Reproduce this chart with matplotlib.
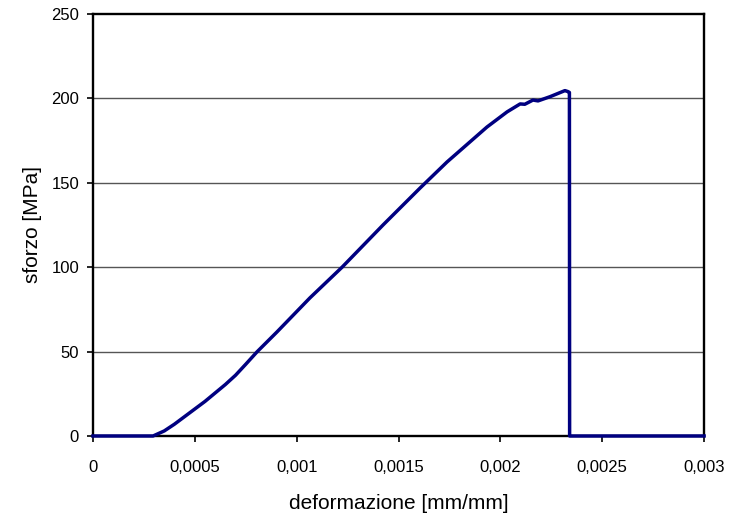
import matplotlib
matplotlib.use("Agg")
import matplotlib.pyplot as plt

plt.rcParams['font.family'] = ['Liberation Sans', 'DejaVu Sans']

strain = [0.0, 0.000295, 0.00035, 0.0004, 0.00045, 0.0005, 0.00055, 0.0006, 0.00065,
          0.0007, 0.00075, 0.000805, 0.000903,
          0.001065, 0.001223, 0.001424, 0.001606, 0.001738, 0.001934, 0.002033, 0.002097,
          0.00212, 0.00216, 0.002185, 0.002244, 0.002317, 0.002332, 0.002339, 0.00234, 0.003]
stress = [0.0, 0.0, 3.0, 7.0, 11.5, 16.0, 20.5, 25.5, 30.5,
          36.0, 42.5, 49.8, 61.6,
          81.8, 100.0, 125.0, 146.9, 162.3, 183.0, 192.0, 196.7,
          196.5, 199.0, 198.5, 201.0, 204.6, 204.0, 203.5, 0.0, 0.0]

xticks = [0, 0.0005, 0.001, 0.0015, 0.002, 0.0025, 0.003]
xticklabels = ["0", "0,0005", "0,001", "0,0015", "0,002", "0,0025", "0,003"]
yticks = [0, 50, 100, 150, 200, 250]
yticklabels = ["0", "50", "100", "150", "200", "250"]

fig = plt.figure(figsize=(7.38, 5.17), dpi=100)
ax = fig.add_axes([0.126, 0.1567, 0.828, 0.8163])
ax.plot(strain, stress, color='#000080', linewidth=2.5, solid_joinstyle='round', zorder=3, clip_on=False)
ax.set_xlim(0, 0.003)
ax.set_ylim(0, 250)
ax.set_xticks(xticks)
ax.set_xticklabels(xticklabels)
ax.set_yticks(yticks)
ax.set_yticklabels(yticklabels)
for y in [50, 100, 150, 200]:
    ax.axhline(y, color='#555555', linewidth=1.0, zorder=1)
for s in ax.spines.values():
    s.set_linewidth(1.7)
    s.set_color('black')
ax.tick_params(axis='x', direction='out', length=4, width=1.2, pad=13, labelsize=12)
ax.tick_params(axis='y', direction='out', length=4, width=1.2, pad=6, labelsize=12)
ax.set_xlabel("deformazione [mm/mm]", fontsize=15, labelpad=14)
ax.set_ylabel("sforzo [MPa]", fontsize=15, labelpad=7)
fig.savefig("out.png", dpi=100)
